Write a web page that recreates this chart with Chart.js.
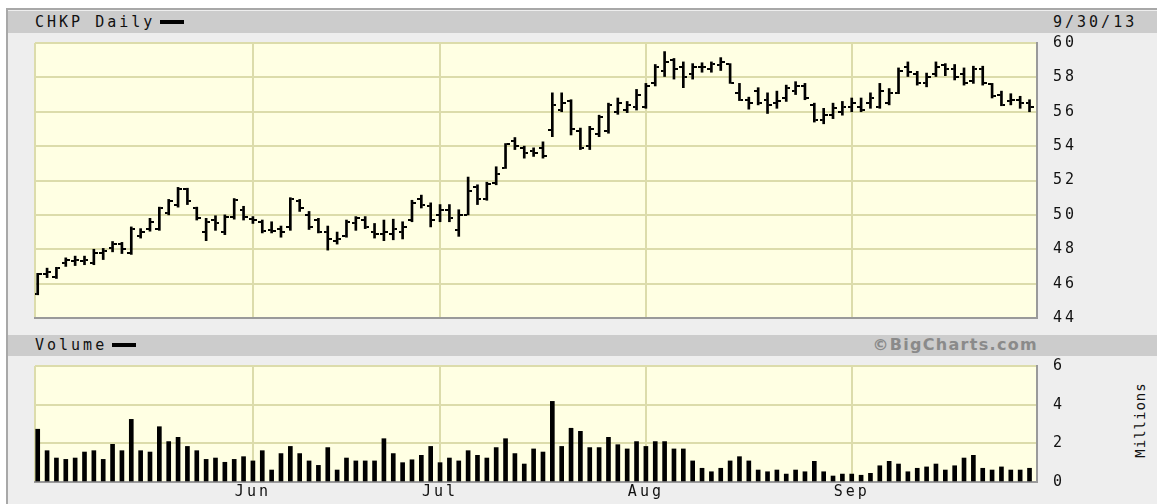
<!DOCTYPE html>
<html><head><meta charset="utf-8">
<script src="https://cdn.jsdelivr.net/npm/chart.js@4.4.0/dist/chart.umd.min.js"></script>
<style>
html,body{margin:0;padding:0;background:#fff;width:1157px;height:504px;overflow:hidden;}
#frame{position:absolute;left:6px;top:8px;width:1151px;height:496px;background:#eeeeee;border-left:2px solid #a8a8a8;border-top:2px solid #a8a8a8;box-sizing:border-box;}
.band{position:absolute;left:8px;width:1149px;background:#cccccc;}
#band1{top:11px;height:22px;}
#band2{top:335px;height:21px;}
.lbl{position:absolute;font-family:'DejaVu Sans Mono',monospace;font-size:15px;letter-spacing:3px;color:#111;line-height:16px;white-space:nowrap;}
.dash{display:inline-block;width:24px;height:4px;background:#000;vertical-align:middle;margin-left:5px;margin-top:-2px;}
#bc{position:absolute;right:119px;top:337px;font-family:'DejaVu Sans',sans-serif;font-weight:bold;font-size:16px;letter-spacing:1.3px;color:#8a8a8a;line-height:16px;white-space:nowrap;}
#mil{position:absolute;left:1100px;top:412px;width:80px;text-align:center;transform:rotate(-90deg);font-family:'DejaVu Sans Mono',monospace;font-size:14px;letter-spacing:1px;color:#111;line-height:16px;}
canvas{position:absolute;left:0;}
#c1{top:0;}
#c2{top:330px;}
</style></head>
<body>
<div id="frame"></div>
<div class="band" id="band1"></div>
<div class="band" id="band2"></div>
<div class="lbl" style="left:35px;top:14px;">CHKP Daily<span class="dash"></span></div>
<div class="lbl" style="left:1053px;top:14px;">9/30/13</div>
<div class="lbl" style="left:35px;top:337px;">Volume<span class="dash"></span></div>
<div id="bc">©BigCharts.com</div>
<div id="mil">Millions</div>
<canvas id="c1" width="1157" height="330"></canvas>
<canvas id="c2" width="1157" height="174"></canvas>
<script>
const dates = ['4/30',
 '5/1','5/2','5/3','5/6','5/7','5/8','5/9','5/10','5/13','5/14','5/15','5/16','5/17','5/20','5/21','5/22','5/23','5/24','5/28','5/29','5/30','5/31',
 '6/3','6/4','6/5','6/6','6/7','6/10','6/11','6/12','6/13','6/14','6/17','6/18','6/19','6/20','6/21','6/24','6/25','6/26','6/27','6/28',
 '7/1','7/2','7/3','7/5','7/8','7/9','7/10','7/11','7/12','7/15','7/16','7/17','7/18','7/19','7/22','7/23','7/24','7/25','7/26','7/29','7/30','7/31',
 '8/1','8/2','8/5','8/6','8/7','8/8','8/9','8/12','8/13','8/14','8/15','8/16','8/19','8/20','8/21','8/22','8/23','8/26','8/27','8/28','8/29','8/30',
 '9/3','9/4','9/5','9/6','9/9','9/10','9/11','9/12','9/13','9/16','9/17','9/18','9/19','9/20','9/23','9/24','9/25','9/26','9/27','9/30'];
const monthLabels = ['Jun','Jul','Aug','Sep'];
const priceTicks = [44,46,48,50,52,54,56,58,60];
const volumeTicks = [0,2,4,6];

const open  = [45.4,46.55,46.4,47.2,47.3,47.3,47.2,47.8,48.1,48.3,47.8,48.8,49.2,49.2,50.1,50.6,51.5,50.4,49.0,49.7,49.0,49.9,50.3,
 49.75,49.6,49.1,49.2,49.3,50.8,50.0,49.7,49.0,48.5,48.8,49.5,49.7,49.0,48.9,48.9,49.0,49.7,50.9,50.5,
 50.0,50.3,49.1,50.0,51.6,50.9,51.85,52.75,54.3,53.9,53.7,53.9,54.95,56.1,56.6,54.9,54.0,54.7,54.9,56.0,56.1,56.3,
 56.3,57.7,58.4,59.0,58.6,58.2,58.6,58.5,58.7,58.75,57.1,56.7,57.2,56.7,56.5,56.8,57.2,57.5,56.4,55.5,55.8,56.0,
 56.3,56.3,56.5,56.3,56.5,57.1,58.6,58.2,57.7,58.2,58.7,58.5,58.2,57.8,58.5,57.6,57.0,56.6,56.7,56.5];
const high  = [46.6,46.9,46.95,47.5,47.6,47.6,48.0,48.05,48.45,48.4,49.3,49.2,49.8,50.45,50.9,51.6,51.55,50.45,49.8,49.95,50.0,50.95,50.5,
 49.9,49.7,49.6,49.35,51.0,50.9,50.2,49.8,49.35,49.0,49.7,49.9,49.9,49.5,49.7,49.75,49.6,50.85,51.15,50.7,
 50.6,50.6,50.3,52.2,51.75,51.9,52.8,54.15,54.5,54.0,53.9,54.25,57.1,57.1,56.7,55.05,55.15,55.8,56.5,56.8,56.6,57.3,
 57.65,58.75,59.5,59.1,58.9,58.8,58.85,58.9,59.15,58.8,57.65,56.85,57.4,57.1,57.2,57.55,57.75,57.65,56.5,56.2,56.5,56.6,
 56.8,56.8,57.1,57.65,57.35,58.55,58.9,58.35,58.25,58.9,58.8,58.75,58.55,58.65,58.65,57.65,57.2,57.05,56.9,56.7];
const low   = [45.35,46.35,46.3,47.0,47.05,47.1,47.1,47.4,47.85,47.75,47.7,48.65,49.05,49.1,50.0,50.45,50.6,49.7,48.5,49.1,48.85,49.75,49.7,
 49.5,48.95,48.95,48.7,49.1,50.2,49.15,48.95,47.95,48.3,48.7,49.1,49.2,48.65,48.5,48.55,48.6,49.6,50.4,49.3,
 49.6,49.6,48.75,50.0,50.6,50.85,51.75,52.7,53.8,53.3,53.4,53.3,54.55,56.0,54.65,53.8,53.8,54.55,54.75,55.85,55.95,56.1,
 56.2,57.5,58.05,57.9,57.4,57.9,58.3,58.3,58.4,57.65,56.65,56.15,56.4,55.9,56.2,56.6,57.0,56.7,55.4,55.3,55.6,55.8,
 56.0,56.0,56.2,56.2,56.4,57.05,58.05,57.55,57.45,58.05,58.1,57.85,57.55,57.65,57.55,56.8,56.35,56.4,56.2,56.0];
const close = [46.55,46.65,46.9,47.4,47.35,47.4,47.8,47.9,48.3,48.0,49.2,49.0,49.6,50.4,50.8,51.5,50.8,49.8,49.6,49.5,49.9,50.85,49.9,
 49.7,49.05,49.05,49.0,50.9,50.4,49.3,49.0,48.6,48.6,49.6,49.8,49.3,48.9,49.0,49.2,49.3,50.7,50.6,49.7,
 50.3,49.8,50.0,51.4,50.9,51.8,52.4,54.1,54.0,53.6,53.6,53.4,56.4,56.5,55.0,53.9,55.0,55.7,56.4,56.5,56.4,57.0,
 57.5,58.6,58.9,58.5,58.0,58.6,58.6,58.8,58.9,57.7,56.7,56.5,56.5,56.4,56.6,57.4,57.5,56.8,55.5,55.8,56.2,56.3,
 56.5,56.1,56.8,57.2,57.1,58.4,58.3,57.7,58.0,58.6,58.5,58.0,57.7,58.5,57.7,56.9,56.4,56.7,56.5,56.3];
const volume = [2.73,1.62,1.24,1.17,1.24,1.55,1.62,1.17,1.95,1.62,3.24,1.62,1.55,2.86,2.09,2.31,1.84,1.62,1.17,1.24,1.02,1.17,1.31,
 1.09,1.62,0.62,1.47,1.84,1.47,1.09,0.86,1.78,0.62,1.24,1.09,1.09,1.09,2.24,1.47,1.0,1.15,1.38,1.84,
 1.0,1.24,1.09,1.62,1.38,1.24,1.78,2.24,1.47,0.93,1.71,1.55,4.17,1.84,2.78,2.62,1.78,1.78,2.31,1.93,1.71,2.09,
 1.84,2.09,2.09,1.71,1.71,1.09,0.71,0.53,0.71,1.09,1.31,1.09,0.62,0.53,0.62,0.41,0.62,0.53,1.07,0.53,0.31,0.41,
 0.41,0.35,0.45,0.84,1.07,0.93,0.53,0.71,0.78,0.93,0.62,0.84,1.24,1.38,0.71,0.62,0.78,0.62,0.62,0.71];

// first trading day of each labelled month (tick positions)
let monthIdx = [];
for (let i = 1; i < dates.length; i++) {
  if (dates[i].split('/')[0] !== dates[i-1].split('/')[0]) monthIdx.push(i);
}
monthIdx = monthIdx.slice(-monthLabels.length);

Chart.defaults.font.family = "'DejaVu Sans Mono', monospace";
Chart.defaults.color = '#111';

const GRID = '#dcdcab';
const X_MIN = -0.29, X_MAX = dates.length - 1 + 0.8;

function tickImg(side) {
  const c = document.createElement('canvas');
  c.width = 8; c.height = 2;
  const g = c.getContext('2d');
  g.fillStyle = '#000';
  if (side === 'open') g.fillRect(0, 0, 3, 2); else g.fillRect(5, 0, 3, 2);
  return c;
}

const plotBg = {
  id: 'plotBg',
  beforeDraw(chart) {
    const {ctx, chartArea: a} = chart;
    ctx.save();
    ctx.fillStyle = '#ffffe3';
    ctx.fillRect(a.left, a.top, a.right - a.left, a.bottom - a.top);
    ctx.fillStyle = GRID;
    ctx.fillRect(a.left - 1, a.top, 2, a.bottom - a.top);
    ctx.restore();
    ctx.letterSpacing = '3px';
  }
};

function xScale(showLabels, h) {
  return {
    type: 'linear', min: X_MIN, max: X_MAX, offset: false,
    afterBuildTicks: s => { s.ticks = monthIdx.map(v => ({value: v})); },
    afterFit: s => { s.height = h; },
    ticks: { display: showLabels, autoSkip: false, maxRotation: 0, padding: 1,
             font: {size: 15}, color: '#111',
             callback: (v, i) => monthLabels[i] },
    grid: { color: GRID, lineWidth: 2, drawTicks: false, offset: false },
    border: { display: true, color: '#9a9a9a', width: 2 }
  };
}
function yScale(min, max, tickVals) {
  return {
    type: 'linear', position: 'right', min: min, max: max,
    afterBuildTicks: s => { s.ticks = tickVals.map(v => ({value: v})); },
    afterFit: s => { s.width = 120; },
    ticks: { padding: 0, font: {size: 15}, color: '#111' },
    grid: { color: GRID, lineWidth: 2, drawTicks: true, tickLength: 16, tickColor: 'rgba(0,0,0,0)' },
    border: { display: true, color: '#9a9a9a', width: 2 }
  };
}

new Chart(document.getElementById('c1'), {
  type: 'bar',
  data: {
    datasets: [
      { type: 'bar', data: dates.map((d, i) => ({x: i, y: [low[i], high[i]]})),
        backgroundColor: '#000', barThickness: 2, grouped: false },
      { type: 'line', data: dates.map((d, i) => ({x: i, y: open[i]})), showLine: false,
        pointStyle: tickImg('open'), pointRadius: 4, pointHoverRadius: 4 },
      { type: 'line', data: dates.map((d, i) => ({x: i, y: close[i]})), showLine: false,
        pointStyle: tickImg('close'), pointRadius: 4, pointHoverRadius: 4 }
    ]
  },
  options: {
    responsive: false, animation: false, devicePixelRatio: 1,
    layout: { autoPadding: false, padding: { left: 35, top: 43, right: 0, bottom: 0 } },
    plugins: { legend: {display: false}, tooltip: {enabled: false} },
    scales: { x: xScale(false, 12), y: yScale(44, 60, priceTicks) }
  },
  plugins: [plotBg]
});

new Chart(document.getElementById('c2'), {
  type: 'bar',
  data: {
    datasets: [
      { data: dates.map((d, i) => ({x: i, y: volume[i]})), backgroundColor: '#000', barThickness: 4 }
    ]
  },
  options: {
    responsive: false, animation: false, devicePixelRatio: 1,
    layout: { autoPadding: false, padding: { left: 35, top: 36, right: 0, bottom: 0 } },
    plugins: { legend: {display: false}, tooltip: {enabled: false} },
    scales: { x: xScale(true, 22), y: yScale(0, 6, volumeTicks) }
  },
  plugins: [plotBg]
});
</script>
</body></html>
